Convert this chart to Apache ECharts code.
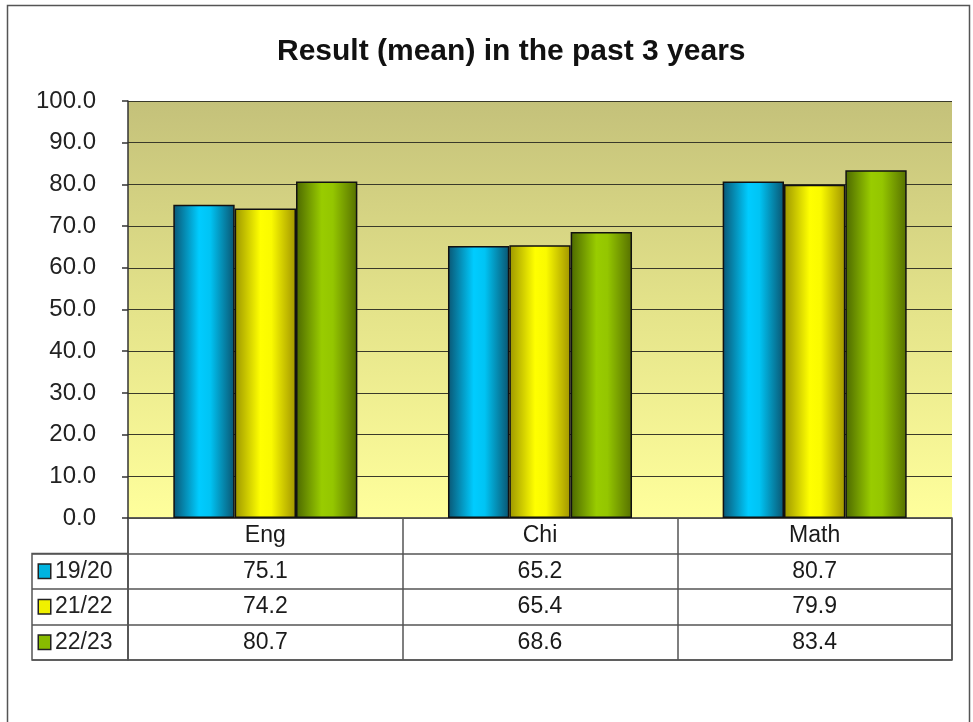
<!DOCTYPE html>
<html>
<head>
<meta charset="utf-8">
<script src="https://cdn.jsdelivr.net/npm/echarts@6/dist/echarts.min.js"></script>
<style>
html,body{margin:0;padding:0;background:#fff;}
#chart{width:973px;height:722px;}
</style>
</head>
<body>
<div id="chart"></div>
<script>
var titleText = 'Result (mean) in the past 3 years';
var categories = ['Eng', 'Chi', 'Math'];
var seriesNames = ['19/20', '21/22', '22/23'];
var values1920 = [75.1, 65.2, 80.7];
var values2122 = [74.2, 65.4, 79.9];
var values2223 = [80.7, 68.6, 83.4];
var yMin = 0, yMax = 100, yStep = 10;

var seriesValues = [values1920, values2122, values2223];
var iconColors = ['#00b4e0', '#f0f000', '#88bb00'];
var barGradients = [
  [['0', '#0a5674'], ['0.42', '#00ccff'], ['0.6', '#00c4f4'], ['1', '#0a5470']],
  [['0', '#9c9600'], ['0.42', '#ffff00'], ['0.6', '#fafa00'], ['1', '#a09400']],
  [['0', '#4c6800'], ['0.42', '#99cc00'], ['0.6', '#94c600'], ['1', '#567000']]
];
var FONT = 'Liberation Sans, Arial, sans-serif';

function grad(stops) {
  return new echarts.graphic.LinearGradient(0, 0, 1, 0,
    stops.map(function (s) { return { offset: parseFloat(s[0]), color: s[1] }; }));
}

var tableRows = ['hdr'].concat(seriesNames);

var series = [];
seriesNames.forEach(function (n, i) {
  series.push({
    type: 'bar', name: n, xAxisIndex: 0, yAxisIndex: 0,
    data: seriesValues[i],
    barGap: '0%', barCategoryGap: '33%',
    itemStyle: { color: grad(barGradients[i]), borderColor: '#111', borderWidth: 1.5 },
    silent: true
  });
});

// table cells
var cellData = [];
categories.forEach(function (c) {
  cellData.push({ name: c, value: [c, 'hdr'] });
});
seriesNames.forEach(function (n, i) {
  categories.forEach(function (c, j) {
    cellData.push({ name: seriesValues[i][j].toFixed(1), value: [c, n] });
  });
});
series.push({
  type: 'scatter', xAxisIndex: 1, yAxisIndex: 1,
  symbolSize: 2, itemStyle: { color: '#ffffff', opacity: 1 }, silent: true,
  data: cellData,
  label: { show: true, position: 'inside', formatter: '{b}', color: '#1a1a1a', opacity: 1,
    textBorderWidth: 0, textBorderColor: 'transparent', fontSize: 23, fontFamily: FONT }
});

var rich = { t: { fontSize: 23, color: '#222', fontFamily: FONT, padding: [0, 0, 0, 5] } };
iconColors.forEach(function (c, i) {
  rich['c' + i] = { width: 11, height: 13, backgroundColor: c, borderColor: '#222', borderWidth: 1.5 };
});

var option = {
  animation: false,
  title: {
    text: titleText, left: 272, top: 32,
    textStyle: { fontSize: 30, fontWeight: 'bold', color: '#111', fontFamily: FONT }
  },
  graphic: [{
    type: 'rect', shape: { x: 7.5, y: 5.5, width: 962, height: 730 },
    style: { fill: null, stroke: '#555', lineWidth: 1.5 }, silent: true
  }],
  grid: [
    {
      left: 128, top: 101, width: 824, height: 417, show: true, borderWidth: 0,
      backgroundColor: new echarts.graphic.LinearGradient(0, 0, 0, 1, [
        { offset: 0, color: '#c4c17a' }, { offset: 0.5, color: '#e4e38a' }, { offset: 1, color: '#ffff9c' }
      ])
    },
    { left: 128, top: 518, width: 824, height: 142, show: true, borderColor: '#555', borderWidth: 1.5 },
    { left: 32, top: 553.5, width: 96, height: 106.5, show: true, borderColor: '#555', borderWidth: 1.5 }
  ],
  xAxis: [
    { type: 'category', gridIndex: 0, data: categories, axisLine: { show: false }, axisTick: { show: false }, axisLabel: { show: false } },
    { type: 'category', gridIndex: 1, data: categories, axisLine: { show: false }, axisTick: { show: false }, axisLabel: { show: false },
      splitLine: { show: true, lineStyle: { color: '#555', width: 1.5 } } },
    { type: 'category', gridIndex: 2, data: [''], axisLine: { show: false }, axisTick: { show: false }, axisLabel: { show: false } }
  ],
  yAxis: [
    {
      type: 'value', gridIndex: 0, min: yMin, max: yMax, interval: yStep,
      axisLine: { show: true, lineStyle: { color: '#333', width: 1.5 } },
      axisTick: { show: true, length: 6, lineStyle: { color: '#333', width: 1.5 } },
      splitLine: { show: true, lineStyle: { color: '#3a3a2a', width: 1.2 } },
      axisLabel: { formatter: function (v) { return v.toFixed(1); }, fontSize: 24, color: '#222', fontFamily: FONT, margin: 32 }
    },
    { type: 'category', gridIndex: 1, data: tableRows, inverse: true, axisLine: { show: false }, axisTick: { show: false }, axisLabel: { show: false },
      splitLine: { show: true, lineStyle: { color: '#555', width: 1.5 } } },
    { type: 'category', gridIndex: 2, data: seriesNames, inverse: true, axisLine: { show: false }, axisTick: { show: false },
      splitLine: { show: true, lineStyle: { color: '#555', width: 1.5 } },
      axisLabel: {
        inside: true, margin: 7,
        formatter: function (v) { var i = seriesNames.indexOf(v); return '{c' + i + '|}{t|' + v + '}'; },
        rich: rich
      } }
  ],
  series: series
};

var chart = echarts.init(document.getElementById('chart'), null, { renderer: 'canvas' });
chart.setOption(option);
</script>
</body>
</html>
